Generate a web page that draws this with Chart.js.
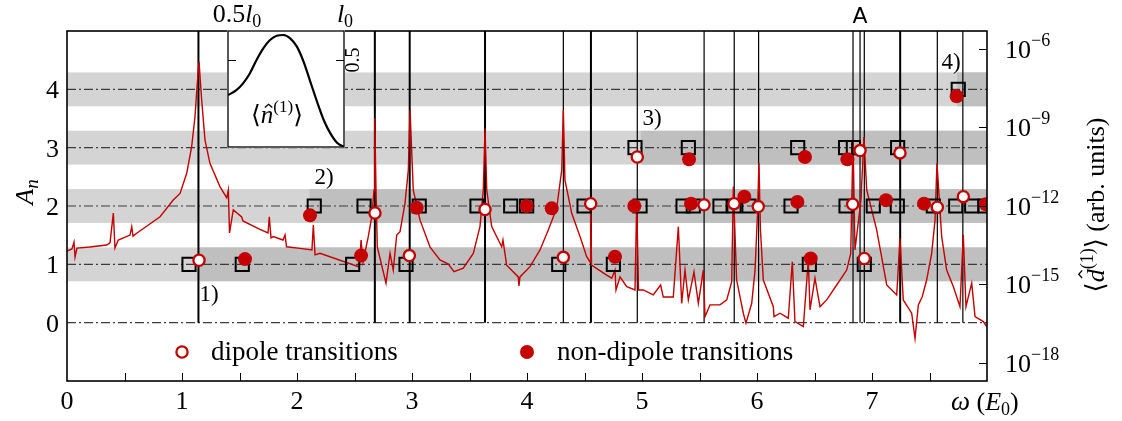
<!DOCTYPE html>
<html>
<head>
<meta charset="utf-8">
<script src="https://cdn.jsdelivr.net/npm/chart.js@4.4.1/dist/chart.umd.min.js"></script>
<style>
html, body { margin: 0; padding: 0; background: #fff; }
#wrap { position: relative; width: 1122px; height: 421px; }
#main { position: absolute; left: 0; top: 0; }
#inset { position: absolute; left: 227px; top: 30px; }
</style>
</head>
<body>
<div id="wrap">
  <canvas id="main" width="1122" height="421"></canvas>
  <canvas id="inset" width="118" height="118"></canvas>
</div>
<script>
// spectrum <d^(1)>(omega), log10 of the amplitude
var omega = [0.000,0.043,0.061,0.070,0.087,0.200,0.345,0.374,0.403,0.417,
  0.446,0.548,0.563,0.574,0.606,0.809,0.924,0.983,1.041,1.084,
  1.113,1.133,1.148,1.171,1.200,1.243,1.330,1.389,1.403,1.413,
  1.446,1.519,1.530,1.678,1.748,1.759,1.774,1.794,1.878,1.896,
  1.909,2.026,2.130,2.142,2.157,2.200,2.542,2.557,2.574,2.620,
  2.650,2.670,2.676,2.687,2.698,2.774,2.809,2.837,2.867,2.896,
  2.939,2.968,2.983,3.011,3.070,3.157,3.243,3.316,3.365,3.446,
  3.533,3.591,3.620,3.635,3.650,3.693,3.780,3.791,3.823,3.924,
  3.930,3.939,4.026,4.113,4.185,4.258,4.302,4.316,4.330,4.389,
  4.461,4.519,4.548,4.554,4.561,4.693,4.737,4.765,4.774,4.809,
  4.867,4.939,4.954,4.970,5.011,5.098,5.162,5.185,5.272,5.316,
  5.345,5.374,5.403,5.452,5.490,5.533,5.548,5.591,5.678,5.737,
  5.780,5.794,5.823,5.881,5.904,5.954,5.983,6.004,6.017,6.030,
  6.055,6.142,6.148,6.200,6.272,6.307,6.330,6.403,6.446,6.461,
  6.504,6.548,6.606,6.693,6.780,6.815,6.835,6.852,6.878,6.904,
  6.930,6.954,6.983,7.041,7.128,7.215,7.243,7.272,7.345,7.374,
  7.403,7.437,7.475,7.519,7.548,7.565,7.606,7.649,7.707,7.765,
  7.794,7.817,7.867,7.896,7.968,7.997];
var logD = [-13.73,-13.65,-13.39,-13.96,-13.62,-13.58,-13.50,-13.42,-12.28,-13.62,
  -13.31,-13.12,-12.80,-13.16,-13.05,-12.42,-11.78,-11.53,-10.76,-9.74,
  -8.60,-7.32,-6.50,-7.96,-9.49,-10.38,-11.27,-11.70,-11.40,-13.04,
  -12.16,-12.43,-12.58,-12.90,-13.04,-12.42,-13.23,-13.18,-13.31,-13.12,
  -13.57,-13.63,-13.69,-12.74,-13.88,-13.82,-14.34,-13.31,-14.15,-13.18,
  -12.42,-11.40,-8.66,-11.40,-13.57,-14.96,-13.82,-14.46,-13.12,-12.99,
  -11.91,-10.64,-8.34,-11.40,-12.55,-13.58,-14.07,-14.23,-14.52,-14.39,
  -13.82,-12.80,-11.40,-9.04,-11.40,-12.80,-13.57,-13.31,-14.27,-14.72,
  -15.07,-14.72,-14.33,-13.69,-12.93,-12.10,-10.64,-8.34,-11.02,-12.29,
  -13.18,-13.95,-14.15,-11.78,-14.27,-14.65,-14.77,-14.46,-15.22,-14.72,
  -15.09,-15.22,-11.91,-15.22,-15.22,-15.41,-15.03,-15.49,-15.49,-12.80,
  -15.73,-14.46,-15.60,-14.53,-15.73,-14.46,-16.24,-15.79,-15.79,-15.60,
  -14.90,-11.27,-14.84,-16.11,-16.49,-15.73,-14.46,-12.35,-10.37,-12.93,
  -14.84,-15.86,-16.24,-16.11,-16.30,-14.14,-16.43,-16.62,-14.07,-15.98,
  -14.77,-15.86,-15.60,-15.03,-14.46,-13.82,-9.49,-13.69,-12.74,-11.78,
  -9.37,-11.40,-11.91,-12.93,-15.03,-15.41,-13.24,-15.60,-16.11,-17.07,
  -15.79,-15.48,-14.84,-13.82,-12.55,-10.37,-13.18,-14.46,-15.09,-15.86,
  -13.12,-15.86,-14.96,-16.24,-16.43,-16.62];

// predicted transitions (squares)
var sqW = [1.061,1.524,2.484,2.948,4.276,4.751,6.455,6.933,
  2.150,2.583,3.063,3.565,3.858,3.997,4.496,4.983,5.357,5.446,5.678,5.800,5.930,
  6.296,6.774,7.011,7.220,7.533,7.728,7.867,7.983,
  4.939,5.403,6.354,6.770,6.838,7.223,
  7.750];
var sqA = [1,1,1,1,1,1,1,1,
  2,2,2,2,2,2,2,2,2,2,2,2,2,
  2,2,2,2,2,2,2,2,
  3,3,3,3,3,3,
  4];

// dipole transitions
var dipW = [1.148,2.977,4.316,6.933,2.678,3.635,4.554,5.539,5.800,6.011,6.832,7.568,7.794,4.959,6.896,7.243];
var dipA = [1.07,1.15,1.12,1.10,1.88,1.94,2.04,2.02,2.04,1.99,2.03,1.98,2.16,2.84,2.95,2.91];

// non-dipole transitions
var ndW = [1.548,2.557,4.765,6.467,2.113,3.041,3.997,4.215,4.933,5.426,5.890,6.351,7.122,7.452,7.991,5.409,6.417,6.786,7.736];
var ndA = [1.09,1.15,1.13,1.10,1.84,1.97,2.00,1.96,2.00,2.04,2.16,2.07,2.10,2.04,2.03,2.80,2.84,2.80,3.88];

// resonance positions
var strongLines = [1.143,2.677,2.980,3.635,4.556,7.245];
var weakLines = [4.316,4.959,5.540,5.802,6.014,6.835,6.896,6.933,7.568,7.790];

// A_n levels and where each level starts to be reached
var levels = [0,1,2,3,4];
var bandLevels = [1,2,3,4];
var bandOnset = [1.14,2.11,4.99,7.74];

// tick labels
var wTicks = [0,1,2,3,4,5,6,7];
var aTicks = [0,1,2,3,4];
var dTicks = [-18,-15,-12,-9,-6];

// inset: <n^(1)> along the chain, l from 0.5 l0 to l0
var insetL = [0.500,0.536,0.565,0.594,0.623,0.652,0.681,0.710,0.739,0.768,0.797,0.826,0.855,0.884,0.913,0.942,0.971,1.000];
var insetN = [0.298,0.327,0.366,0.423,0.500,0.567,0.615,0.640,0.644,0.625,0.577,0.490,0.375,0.260,0.154,0.077,0.023,0.000];

var RED = '#c40000';
var SERIF = "'Liberation Serif', 'DejaVu Serif', serif";

function font(size, it) {
  return (it ? 'italic ' : '') + size + 'px ' + SERIF;
}

// draws a row of text pieces (sub/superscripts, hats) centred at x
function drawRich(ctx, parts, x, y, rot, align) {
  ctx.save();
  ctx.translate(x, y);
  if (rot) ctx.rotate(rot);
  var total = 0;
  parts.forEach(function (p) {
    ctx.font = font(p.size, p.it);
    p.w = ctx.measureText(p.t).width;
    total += p.w;
  });
  var cx = align === 'left' ? 0 : (align === 'right' ? -total : -total / 2);
  ctx.textAlign = 'left';
  ctx.textBaseline = 'alphabetic';
  parts.forEach(function (p) {
    ctx.font = font(p.size, p.it);
    var dy = p.dy || 0;
    ctx.fillText(p.t, cx, dy);
    if (p.hat) {
      var hx = cx + p.w / 2 + p.size * 0.06;
      var hy = dy - p.size * p.hat;
      ctx.beginPath();
      ctx.moveTo(hx - p.size * 0.15, hy);
      ctx.lineTo(hx, hy - p.size * 0.13);
      ctx.lineTo(hx + p.size * 0.15, hy);
      ctx.lineWidth = 1.3;
      ctx.stroke();
    }
    cx += p.w;
  });
  ctx.restore();
}

function pts(xs, ys) {
  return xs.map(function (v, i) { return { x: v, y: ys[i] }; });
}

function vLines(xs) {
  var out = [];
  xs.forEach(function (v) {
    out.push({ x: v, y: 0 }, { x: v, y: 5 }, { x: v, y: null });
  });
  return out;
}

function hLines(ys) {
  var out = [];
  ys.forEach(function (v) {
    out.push({ x: 0, y: v }, { x: 8, y: v }, { x: 8, y: null });
  });
  return out;
}

var bgPlugin = {
  id: 'bg',
  beforeDraw: function (chart) {
    var ctx = chart.ctx;
    ctx.save();
    ctx.fillStyle = '#fff';
    ctx.fillRect(0, 0, chart.width, chart.height);
    ctx.restore();
  }
};

var bandPlugin = {
  id: 'bands',
  beforeDatasetsDraw: function (chart) {
    var ctx = chart.ctx, xs = chart.scales.x, ys = chart.scales.y;
    ctx.save();
    bandLevels.forEach(function (lv, i) {
      var top = ys.getPixelForValue(lv + 0.29), bot = ys.getPixelForValue(lv - 0.29);
      ctx.fillStyle = '#d4d4d4';
      ctx.fillRect(xs.left, top, xs.right - xs.left, bot - top);
      var x0 = xs.getPixelForValue(bandOnset[i]);
      ctx.fillStyle = '#bfbfbf';
      ctx.fillRect(x0, top, xs.right - x0, bot - top);
    });
    ctx.restore();
  }
};

var framePlugin = {
  id: 'frame',
  afterDatasetsDraw: function (chart) {
    var ctx = chart.ctx, a = chart.chartArea;
    var xs = chart.scales.x, ys = chart.scales.y, yd = chart.scales.yd;
    ctx.save();
    ctx.strokeStyle = '#000';
    ctx.lineWidth = 1;
    // inward ticks on the bottom axis, every half unit
    for (var w = 0.5; w < 8; w += 0.5) {
      var px = Math.round(xs.getPixelForValue(w)) + 0.5;
      ctx.beginPath();
      ctx.moveTo(px, a.bottom);
      ctx.lineTo(px, a.bottom - 8);
      ctx.stroke();
    }
    // inward ticks on the right axis
    dTicks.forEach(function (d) {
      var py = Math.round(yd.getPixelForValue(d)) + 0.5;
      ctx.beginPath();
      ctx.moveTo(a.right, py);
      ctx.lineTo(a.right - 8, py);
      ctx.stroke();
    });
    ctx.lineWidth = 1.6;
    ctx.strokeRect(a.left, a.top, a.right - a.left, a.bottom - a.top);
    ctx.restore();
  },
  afterDraw: function (chart) {
    var ctx = chart.ctx, a = chart.chartArea;
    var xs = chart.scales.x, ys = chart.scales.y, yd = chart.scales.yd;
    ctx.save();
    ctx.fillStyle = '#000';
    ctx.strokeStyle = '#000';
    ctx.textBaseline = 'alphabetic';

    ctx.font = font(26);
    ctx.textAlign = 'center';
    wTicks.forEach(function (w) {
      ctx.fillText(String(w), xs.getPixelForValue(w), 409);
    });
    ctx.textAlign = 'right';
    aTicks.forEach(function (v) {
      ctx.fillText(String(v), 59, ys.getPixelForValue(v) + 9);
    });
    dTicks.forEach(function (d) {
      var py = yd.getPixelForValue(d);
      drawRich(ctx, [
        { t: '10', size: 26 },
        { t: '\u2212' + Math.abs(d), size: 18, dy: -12 }
      ], 1005, py + 9, 0, 'left');
    });

    // axis titles
    drawRich(ctx, [
      { t: '\u03c9', size: 27, it: true },
      { t: ' (', size: 26 },
      { t: 'E', size: 26, it: true },
      { t: '0', size: 18, dy: 5 },
      { t: ')', size: 26 }
    ], 951, 410, 0, 'left');
    drawRich(ctx, [
      { t: 'A', size: 26, it: true },
      { t: 'n', size: 19, it: true, dy: 5 }
    ], 33, 192, -Math.PI / 2);
    drawRich(ctx, [
      { t: '\u27e8', size: 26 },
      { t: 'd', size: 26, it: true, hat: 0.84 },
      { t: '(1)', size: 18, dy: -11 },
      { t: '\u27e9', size: 26 },
      { t: ' (arb. units)', size: 26 }
    ], 1104, 205, -Math.PI / 2);

    // inset axis labels
    drawRich(ctx, [
      { t: '0.5', size: 26 },
      { t: 'l', size: 26, it: true },
      { t: '0', size: 18, dy: 5 }
    ], 237, 22);
    drawRich(ctx, [
      { t: 'l', size: 26, it: true },
      { t: '0', size: 18, dy: 5 }
    ], 345, 22);
    drawRich(ctx, [{ t: '0.5', size: 20 }], 359, 60, -Math.PI / 2);

    ctx.font = "22px 'DejaVu Sans', sans-serif";
    ctx.textAlign = 'center';
    ctx.fillText('A', 860, 23);

    // series labels
    ctx.font = font(23);
    ctx.fillText('1)', 209, 301);
    ctx.fillText('2)', 324, 184);
    ctx.fillText('3)', 652, 125);
    ctx.fillText('4)', 951, 69);

    // legend
    ctx.beginPath();
    ctx.arc(182, 352, 5.6, 0, Math.PI * 2);
    ctx.fillStyle = '#fff';
    ctx.fill();
    ctx.lineWidth = 2.3;
    ctx.strokeStyle = RED;
    ctx.stroke();
    ctx.beginPath();
    ctx.arc(527, 352, 7, 0, Math.PI * 2);
    ctx.fillStyle = RED;
    ctx.fill();
    ctx.fillStyle = '#000';
    ctx.font = font(27);
    ctx.textAlign = 'left';
    ctx.fillText('dipole transitions', 211, 360);
    ctx.fillText('non-dipole transitions', 557, 360);
    ctx.restore();
  }
};

new Chart(document.getElementById('main'), {
  type: 'line',
  data: {
    datasets: [
      {
        data: pts(dipW, dipA),
        showLine: false,
        pointStyle: 'circle',
        pointRadius: 5.6,
        pointBorderWidth: 2.3,
        pointBorderColor: RED,
        pointBackgroundColor: '#fff',
        order: 1
      },
      {
        data: pts(ndW, ndA),
        showLine: false,
        pointStyle: 'circle',
        pointRadius: 7,
        pointBorderWidth: 0,
        pointBorderColor: RED,
        pointBackgroundColor: RED,
        order: 2
      },
      {
        data: pts(sqW, sqA),
        showLine: false,
        pointStyle: 'rect',
        pointRadius: 9.3,
        pointBorderWidth: 2,
        pointBorderColor: '#000',
        pointBackgroundColor: 'rgba(0,0,0,0)',
        order: 3
      },
      {
        data: pts(omega, logD),
        yAxisID: 'yd',
        borderColor: RED,
        borderWidth: 1.4,
        pointRadius: 0,
        tension: 0,
        order: 4
      },
      {
        data: vLines(strongLines),
        borderColor: '#000',
        borderWidth: 2,
        pointRadius: 0,
        order: 5
      },
      {
        data: vLines(weakLines),
        borderColor: '#000',
        borderWidth: 1.2,
        pointRadius: 0,
        order: 6
      },
      {
        data: hLines(levels),
        borderColor: '#3c3c3c',
        borderWidth: 1.1,
        borderDash: [9, 3, 2, 3],
        pointRadius: 0,
        order: 7
      }
    ]
  },
  options: {
    responsive: false,
    animation: false,
    events: [],
    layout: { padding: { left: 67, right: 135, top: 31, bottom: 40 } },
    plugins: { legend: { display: false }, tooltip: { enabled: false } },
    scales: {
      x: { type: 'linear', min: 0, max: 8, display: false },
      y: { type: 'linear', min: -1, max: 5, display: false },
      yd: { type: 'linear', min: -18.70, max: -5.32, display: false }
    }
  },
  plugins: [bgPlugin, bandPlugin, framePlugin]
});

var insetPlugin = {
  id: 'insetFrame',
  beforeDraw: function (chart) {
    var ctx = chart.ctx;
    ctx.save();
    ctx.fillStyle = '#fff';
    ctx.fillRect(0, 0, chart.width, chart.height);
    ctx.restore();
  },
  afterDraw: function (chart) {
    var ctx = chart.ctx, a = chart.chartArea, ys = chart.scales.y;
    ctx.save();
    ctx.strokeStyle = '#000';
    ctx.lineWidth = 1.3;
    ctx.strokeRect(a.left, a.top, a.right - a.left, a.bottom - a.top);
    var py = Math.round(ys.getPixelForValue(0.5)) + 0.5;
    ctx.lineWidth = 1;
    ctx.beginPath();
    ctx.moveTo(a.left, py); ctx.lineTo(a.left + 8, py);
    ctx.moveTo(a.right, py); ctx.lineTo(a.right - 8, py);
    ctx.stroke();
    ctx.fillStyle = '#000';
    drawRich(ctx, [
      { t: '\u27e8', size: 25 },
      { t: 'n', size: 25, it: true, hat: 0.62 },
      { t: '(1)', size: 17, dy: -11 },
      { t: '\u27e9', size: 25 }
    ], 50, 93);
    ctx.restore();
  }
};

new Chart(document.getElementById('inset'), {
  type: 'line',
  data: {
    datasets: [{
      data: pts(insetL, insetN),
      borderColor: '#000',
      borderWidth: 2.2,
      pointRadius: 0,
      cubicInterpolationMode: 'monotone'
    }]
  },
  options: {
    responsive: false,
    animation: false,
    events: [],
    layout: { padding: 1 },
    plugins: { legend: { display: false }, tooltip: { enabled: false } },
    scales: {
      x: { type: 'linear', min: 0.5, max: 1, display: false },
      y: { type: 'linear', min: 0, max: 0.667, display: false }
    }
  },
  plugins: [insetPlugin]
});
</script>
</body>
</html>
